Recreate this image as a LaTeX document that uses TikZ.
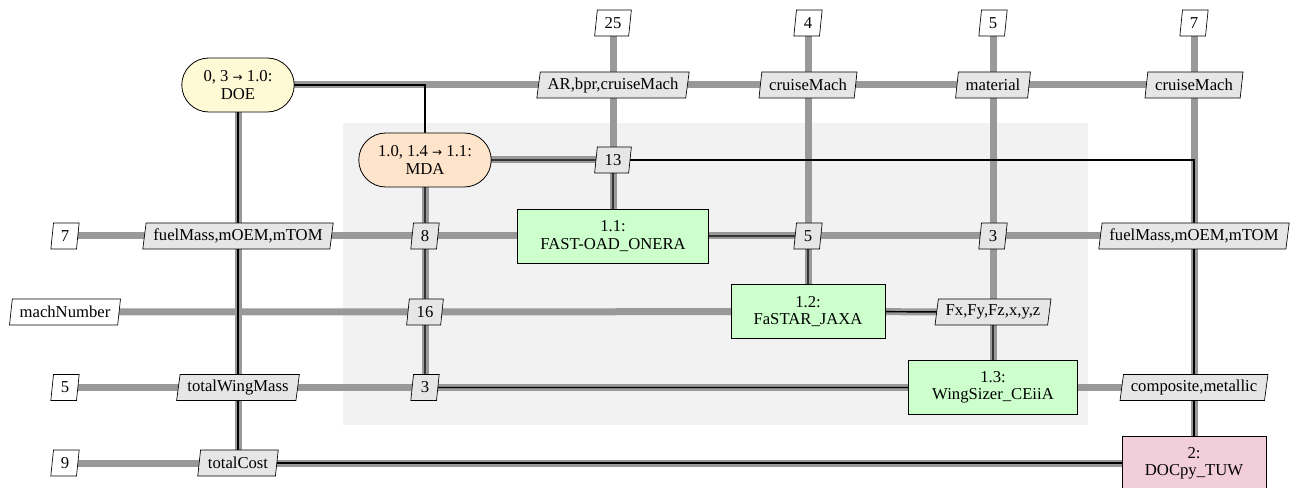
\documentclass[tikz,border=0pt]{standalone}
\usepackage{fontspec}
\setmainfont{Liberation Serif}
\newfontfamily\symf{DejaVu Sans}
\usetikzlibrary{shapes.geometric,shapes.misc}
\pgfdeclarelayer{grp}\pgfdeclarelayer{dl}\pgfdeclarelayer{pl}
\pgfsetlayers{grp,dl,pl,main}
\definecolor{doecol}{HTML}{FFFAD6}
\definecolor{mdacol}{HTML}{FFE4CC}
\definecolor{funcol}{HTML}{CCFFCC}
\definecolor{doccol}{HTML}{F2CDDA}
\definecolor{datacol}{HTML}{E6E6E6}
\definecolor{grpcol}{HTML}{F2F2F2}
\definecolor{linecol}{HTML}{999999}
\newcommand{\arr}{{\symf\fontsize{9}{10}\selectfont →}}
\begin{document}
\begin{tikzpicture}[x=0.75pt,y=-0.75pt,
 every node/.style={font=\fontsize{12.5}{13}\selectfont},
 drv/.style={rounded rectangle, draw=black, line width=0.6pt, minimum height=40.5pt, align=center},
 fun/.style={rectangle, draw=black, line width=0.6pt, fill=funcol, minimum height=40.5pt, align=center},
 dat/.style={trapezium, trapezium left angle=79, trapezium right angle=101, trapezium stretches=true, draw=black, line width=0.5pt, fill=datacol, minimum height=19.5pt, inner xsep=5.5pt, inner ysep=1pt},
 inp/.style={dat, fill=white},
 dline/.style={draw=linecol, line width=5.25pt},
 pline/.style={draw=black, line width=1.1pt},
]
\useasboundingbox (0,0) rectangle (1293,488);
\begin{pgfonlayer}{grp}
\fill[white] (0,0) rectangle (1293,488);
\fill[grpcol] (343,123) rectangle (1088,425);
\end{pgfonlayer}

% function nodes
\node[drv, fill=doecol, minimum width=91pt] (DOE) at (238,85) {0, 3 \arr\ 1.0:\\DOE};
\node[drv, fill=mdacol, minimum width=106pt] (MDA) at (425,160) {1.0, 1.4 \arr\ 1.1:\\MDA};
\node[fun, minimum width=143pt] (FAST) at (613,236) {1.1:\\FAST-OAD\_ONERA};
\node[fun, minimum width=115.5pt] (FASTAR) at (808,311.5) {1.2:\\FaSTAR\_JAXA};
\node[fun, minimum width=127pt] (WS) at (993,387.5) {1.3:\\WingSizer\_CEiiA};
\node[fun, fill=doccol, minimum width=108pt] (DOC) at (1194,463) {2:\\DOCpy\_TUW};

% top inputs
\node[inp] (t25) at (613,23) {25};
\node[inp] (t4) at (808,23) {4};
\node[inp] (t5) at (993,23) {5};
\node[inp] (t7) at (1194,23) {7};
% DOE row
\node[dat] (d01) at (613,85) {AR,bpr,cruiseMach};
\node[dat] (d02) at (808,85) {cruiseMach};
\node[dat] (d03) at (993,85) {material};
\node[dat] (d04) at (1194,85) {cruiseMach};
% MDA row
\node[dat] (d13) at (613,160) {13};
% FAST row
\node[inp] (l7) at (65,236) {7};
\node[dat] (dfl) at (238,236) {fuelMass,mOEM,mTOM};
\node[dat] (d8) at (425,236) {8};
\node[dat] (d5) at (808,236) {5};
\node[dat] (d3a) at (993,236) {3};
\node[dat] (dfr) at (1194,236) {fuelMass,mOEM,mTOM};
% FaSTAR row
\node[inp] (lmach) at (65,312) {machNumber};
\node[dat] (d16) at (425,312) {16};
\node[dat] (dF) at (993,312) {Fx,Fy,Fz,x,y,z};
% WingSizer row
\node[inp] (l5) at (65,387.5) {5};
\node[dat] (dtw) at (238,387.5) {totalWingMass};
\node[dat] (d3b) at (425,387.5) {3};
\node[dat] (dcm) at (1194,387.5) {composite,metallic};
% DOC row
\node[inp] (l9) at (65,463) {9};
\node[dat] (dtc) at (238,463) {totalCost};

\begin{pgfonlayer}{dl}
\draw[dline] (DOE.center) -- (d01.center) -- (d02.center) -- (d03.center) -- (d04.center);
\draw[dline] (t25.center) -- (d01.center) -- (d13.center) -- (FAST.center);
\draw[dline] (t4.center) -- (d02.center) -- (d5.center) -- (FASTAR.center);
\draw[dline] (t5.center) -- (d03.center) -- (d3a.center) -- (dF.center) -- (WS.center);
\draw[dline] (t7.center) -- (d04.center) -- (dfr.center) -- (dcm.center) -- (DOC.center);
\draw[dline] (DOE.center) -- (dfl.center) -- (dtw.center) -- (dtc.center);
\draw[dline] (MDA.center) -- (d8.center) -- (d16.center) -- (d3b.center);
\draw[dline] (MDA.center) -- (d13.center);
\draw[dline] (l7.center) -- (dfl.center) -- (d8.center) -- (FAST.center) -- (d5.center) -- (d3a.center) -- (dfr.center);
\draw[dline] (lmach.center) -- (d16.center) -- (FASTAR.center) -- (dF.center);
\draw[dline] (l5.center) -- (dtw.center) -- (d3b.center) -- (WS.center) -- (dcm.center);
\draw[dline] (l9.center) -- (dtc.center) -- (DOC.center);
\end{pgfonlayer}

\begin{pgfonlayer}{pl}
\draw[pline] (DOE.center) -| (MDA.center);
\draw[pline] (MDA.center) -- (d13.center) -- (FAST.center) -- (d5.center) -- (FASTAR.center) -- (dF.center) -- (WS.center) -- (d3b.center) -- (MDA.center);
\draw[pline] (d13.center) -| (DOC.center);
\draw[pline] (DOC.center) -- (dtc.center) -- (DOE.center);
\end{pgfonlayer}
\end{tikzpicture}
\end{document}
